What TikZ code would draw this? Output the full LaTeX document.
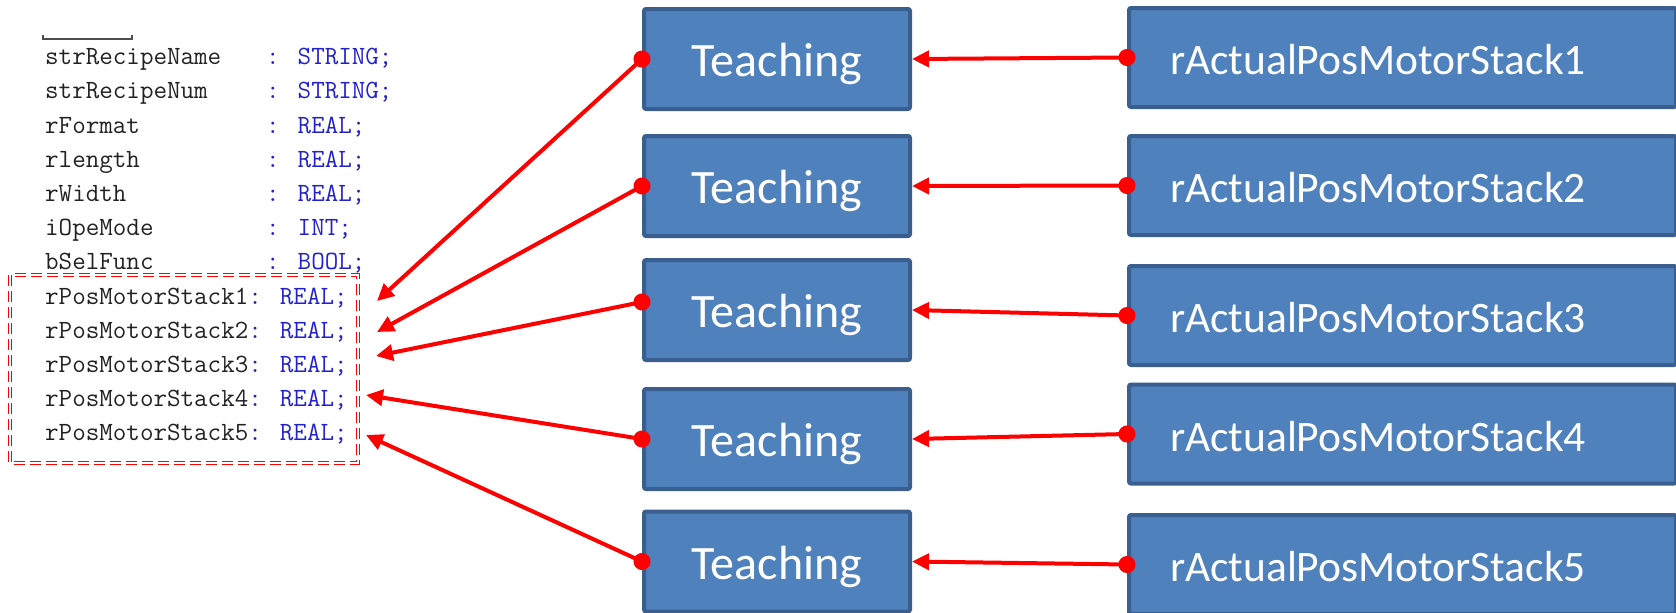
\documentclass[tikz,border=0pt]{standalone}
\usepackage{fontspec}
\usepackage{xcolor}
\usetikzlibrary{arrows.meta,positioning}
\newfontfamily\boxfont{Carlito}
\definecolor{boxfill}{HTML}{4F81BD}
\definecolor{boxline}{HTML}{3A5F8E}
\definecolor{codeblue}{HTML}{2222CC}
\definecolor{codegrey}{HTML}{222222}
\definecolor{linkred}{HTML}{FF0000}
\newcommand{\declline}[2]{\makebox[8.4em][l]{#1}\textcolor{codeblue}{: #2;}}

\begin{document}
\begin{tikzpicture}[x=1pt,y=-1pt,
  teachbox/.style={draw=boxline,fill=boxfill,line width=4pt,rounded corners=2pt,
              minimum width=266pt,minimum height=100pt,text=white,
              font=\boxfont\fontsize{48}{52}\selectfont,text height=35pt,text depth=0pt},
  actbox/.style={draw=boxline,fill=boxfill,line width=4pt,rounded corners=2pt,
              anchor=west,text width=465pt,align=left,inner xsep=41pt,minimum height=99pt,
              text=white,font=\boxfont\fontsize{43.5}{47}\selectfont,text height=34pt,text depth=0pt},
  codeline/.style={anchor=base west,inner sep=0pt,text=codegrey,
              font=\ttfamily\fontsize{26.3}{28}\selectfont},
  link/.style={draw=linkred,line width=4pt,
              {Circle[length=17pt]}-{Triangle[length=17pt,width=16pt]},shorten <=-8.5pt},
  fence/.style={draw=linkred,line width=1.2pt,double=white,double distance=2pt,
              dash pattern=on 11pt off 5pt},
]
\useasboundingbox (0,0) rectangle (1676,613);

% recipe structure
\draw[codegrey!80,line width=1.5pt] (43,35) -- (43,39) -- (132,39) -- (132,35);
\node[codeline] (recname) at (45,64)   {\declline{strRecipeName}{STRING}};
\node[codeline] (recnum)  at (45,98.5) {\declline{strRecipeNum}{STRING}};
\node[codeline] (format)  at (45,133)  {\declline{rFormat}{REAL}};
\node[codeline] (length)  at (45,167)  {\declline{rlength}{REAL}};
\node[codeline] (width)   at (45,201)  {\declline{rWidth}{REAL}};
\node[codeline] (opemode) at (45,235)  {\declline{iOpeMode}{INT}};
\node[codeline] (selfunc) at (45,269)  {\declline{bSelFunc}{BOOL}};
\node[codeline] (pos1)    at (45,304)  {rPosMotorStack1\textcolor{codeblue}{: REAL;}};
\node[codeline] (pos2)    at (45,338)  {rPosMotorStack2\textcolor{codeblue}{: REAL;}};
\node[codeline] (pos3)    at (45,372)  {rPosMotorStack3\textcolor{codeblue}{: REAL;}};
\node[codeline] (pos4)    at (45,406)  {rPosMotorStack4\textcolor{codeblue}{: REAL;}};
\node[codeline] (pos5)    at (45,440)  {rPosMotorStack5\textcolor{codeblue}{: REAL;}};
\draw[fence] (10,275) rectangle (358,463);

% teaching buttons
\node[teachbox] (teach1) at (777,59)    {Teaching};
\node[teachbox] (teach2) at (777,186)   {Teaching};
\node[teachbox] (teach3) at (777,310)   {Teaching};
\node[teachbox] (teach4) at (777,439)   {Teaching};
\node[teachbox] (teach5) at (777,561.5) {Teaching};

% actual positions
\node[actbox] (act1) at (1127,57.5)  {rActualPosMotorStack1};
\node[actbox] (act2) at (1127,185.5) {rActualPosMotorStack2};
\node[actbox] (act3) at (1127,315.5) {rActualPosMotorStack3};
\node[actbox] (act4) at (1127,434)   {rActualPosMotorStack4};
\node[actbox] (act5) at (1127,564.5) {rActualPosMotorStack5};

\coordinate (tip1) at (377,301);
\coordinate (tip2) at (377,332);
\coordinate (tip3) at (376,356);
\coordinate (tip4) at (366,395);
\coordinate (tip5) at (366,435);

\draw[link] (teach1.west) -- (tip1);
\draw[link] (teach2.west) -- (tip2);
\draw[link] ([yshift=8pt]teach3.west) -- (tip3);
\draw[link] (teach4.west) -- (tip4);
\draw[link] (teach5.west) -- (tip5);

\draw[link] (act1.west) -- (teach1.east);
\draw[link] (act2.west) -- (teach2.east);
\draw[link] (act3.west) -- (teach3.east);
\draw[link] (act4.west) -- (teach4.east);
\draw[link] (act5.west) -- (teach5.east);
\end{tikzpicture}
\end{document}
